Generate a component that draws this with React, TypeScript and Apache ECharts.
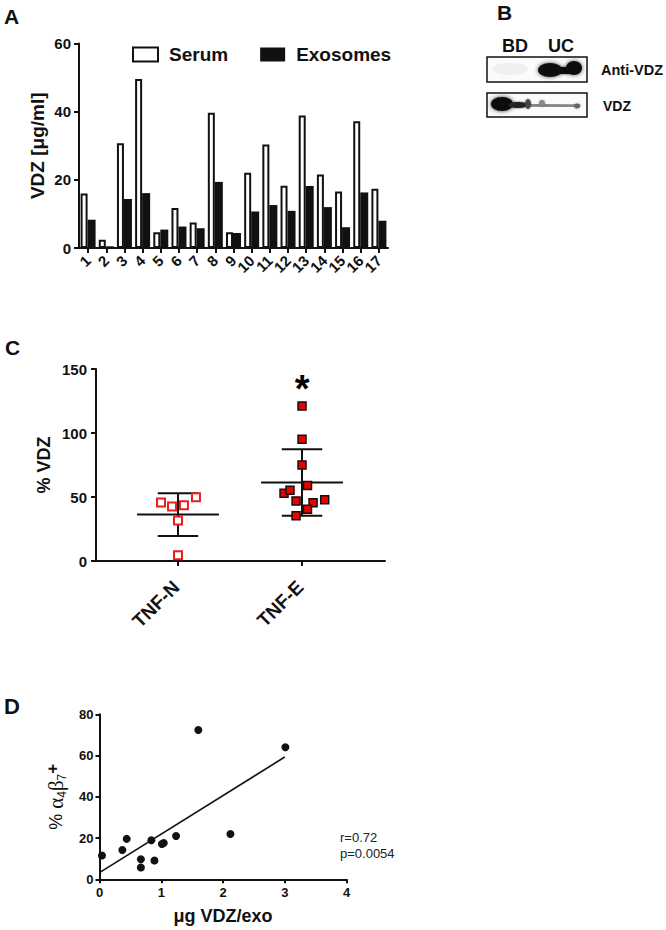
import React, { useEffect, useRef } from "react";
import * as echarts from "echarts";

// ---------- Panel A data ----------
const sampleIds = ["1", "2", "3", "4", "5", "6", "7", "8", "9", "10", "11", "12", "13", "14", "15", "16", "17"];
const serumVdz = [16, 2.4, 30.7, 49.6, 4.6, 11.7, 7.5, 39.7, 4.6, 22.1, 30.4, 18.3, 38.9, 21.6, 16.6, 37.2, 17.4];
const exosomeVdz = [8.3, 0.5, 14.4, 16.1, 5.4, 6.3, 5.8, 19.4, 4.4, 10.7, 12.6, 10.9, 18.2, 12.0, 6.1, 16.3, 8.0];

// ---------- Panel B labels ----------
const laneLabels = ["BD", "UC"];
const blotLabels = ["Anti-VDZ", "VDZ"];

// ---------- Panel C data ----------
const groupNames = ["TNF-N", "TNF-E"];
const tnfN = [45.7, 42.5, 43.6, 49.8, 31.6, 4.4];
const tnfNJitter = [-0.137, -0.048, 0.048, 0.145, 0, 0];
const tnfE = [121.1, 95.1, 75, 58.9, 52.9, 55.2, 46.9, 47.9, 45.6, 40.4, 35.4];
const tnfEJitter = [0, 0, 0, 0.044, -0.145, -0.097, -0.048, 0.183, 0.089, 0.044, -0.048];

// ---------- Panel D data ----------
const vdzPerExo = [0.04, 0.37, 0.44, 0.67, 0.67, 0.84, 0.89, 1.01, 1.04, 1.24, 1.6, 2.12, 3.01];
const a4b7Pct = [11.5, 14.2, 19.6, 9.7, 5.7, 18.9, 9.1, 17.1, 17.6, 21.0, 72.4, 22.0, 64.0];
const fitRange = [0, 3];
const statsText = ["r=0.72", "p=0.0054"];

const FONT = "Arial, 'Liberation Sans', sans-serif";

const mean = (a: number[]) => a.reduce((s, v) => s + v, 0) / a.length;
const sd = (a: number[]) => {
  const m = mean(a);
  return Math.sqrt(a.reduce((s, v) => s + (v - m) * (v - m), 0) / (a.length - 1));
};
function linFit(x: number[], y: number[]) {
  const mx = mean(x), my = mean(y);
  let sxy = 0, sxx = 0;
  for (let i = 0; i < x.length; i++) {
    sxy += (x[i] - mx) * (y[i] - my);
    sxx += (x[i] - mx) * (x[i] - mx);
  }
  const b = sxy / sxx;
  return { a: my - b * mx, b };
}

export default function App() {
  const ref = useRef<HTMLDivElement>(null);
  useEffect(() => {
    const chart = echarts.init(ref.current!, null, { renderer: "svg" });
    const fit = linFit(vdzPerExo, a4b7Pct);
    const meanHalf = 0.33;
    const capHalf = 0.163;
    const axisLine = { show: true, lineStyle: { color: "#111", width: 2 } };
    const axisTick = { show: true, length: 5, lineStyle: { color: "#111", width: 2 } };
    const boldLabel = (size: number) => ({ color: "#111", fontWeight: "bold" as const, fontSize: size, fontFamily: FONT });

    const maxE = Math.max(...tnfE);
    const maxEIdx = tnfE.indexOf(maxE);

    const option: any = {
      animation: false,
      backgroundColor: "#fff",
      textStyle: { fontFamily: FONT },
      legend: {
        data: ["Serum", "Exosomes"],
        left: 127,
        top: 40,
        icon: "rect",
        itemWidth: 25,
        itemHeight: 14,
        itemGap: 32,
        textStyle: { fontSize: 19, fontWeight: "bold", color: "#111", fontFamily: FONT, padding: [0, 0, 0, 6] },
      },
      grid: [
        { left: 79, top: 43.5, width: 309, height: 204.5 },
        { left: 96, top: 369, width: 289, height: 192 },
        { left: 99.5, top: 714.3, width: 247, height: 165 },
      ],
      xAxis: [
        {
          type: "category",
          gridIndex: 0,
          data: sampleIds,
          axisLine,
          axisTick: { ...axisTick, alignWithLabel: true },
          axisLabel: { ...boldLabel(15), rotate: 45, margin: 10, interval: 0 },
        },
        {
          type: "value",
          gridIndex: 1,
          min: 0.339,
          max: 2.669,
          axisLine,
          axisTick: { ...axisTick, customValues: [1, 2] },
          axisLabel: { show: false },
          splitLine: { show: false },
        },
        {
          type: "value",
          gridIndex: 2,
          min: 0,
          max: 4,
          interval: 1,
          axisLine,
          axisTick: { ...axisTick, length: 4 },
          axisLabel: { ...boldLabel(13), margin: 7 },
          splitLine: { show: false },
          name: "μg VDZ/exo",
          nameLocation: "middle",
          nameGap: 28,
          nameTextStyle: { ...boldLabel(18) },
        },
      ],
      yAxis: [
        {
          type: "value",
          gridIndex: 0,
          min: 0,
          max: 60,
          interval: 20,
          axisLine,
          axisTick,
          axisLabel: { ...boldLabel(15), margin: 8 },
          splitLine: { show: false },
          name: "VDZ [μg/ml]",
          nameLocation: "middle",
          nameGap: 32,
          nameTextStyle: { ...boldLabel(19) },
        },
        {
          type: "value",
          gridIndex: 1,
          min: 0,
          max: 150,
          interval: 50,
          axisLine,
          axisTick,
          axisLabel: { ...boldLabel(15), margin: 9 },
          splitLine: { show: false },
          name: "% VDZ",
          nameLocation: "middle",
          nameGap: 43,
          nameTextStyle: { ...boldLabel(18) },
        },
        {
          type: "value",
          gridIndex: 2,
          min: 0,
          max: 80,
          interval: 20,
          axisLine,
          axisTick: { ...axisTick, length: 4 },
          axisLabel: { ...boldLabel(13), margin: 6 },
          splitLine: { show: false },
          name: "{pc|% }{g|α}{sb|4}{g|β}{sb|7}{sp|+}",
          nameLocation: "middle",
          nameGap: 32,
          nameTextStyle: {
            color: "#111",
            rich: {
              pc: { fontSize: 18, fontFamily: FONT, color: "#111", lineHeight: 24 },
              g: { fontSize: 21, fontFamily: "'Liberation Serif', 'DejaVu Serif', serif", color: "#111", lineHeight: 24 },
              sb: { fontSize: 12, fontFamily: FONT, color: "#111", lineHeight: 13, verticalAlign: "bottom" },
              sp: { fontSize: 17, fontFamily: FONT, fontWeight: "bold", color: "#111", lineHeight: 14, verticalAlign: "top" },
            },
          },
        },
      ],
      series: [
        {
          name: "Serum",
          type: "bar",
          xAxisIndex: 0,
          yAxisIndex: 0,
          data: serumVdz,
          barWidth: 7,
          barGap: "0%",
          itemStyle: { color: "#fff", borderColor: "#111", borderWidth: 2 },
        },
        {
          name: "Exosomes",
          type: "bar",
          xAxisIndex: 0,
          yAxisIndex: 0,
          data: exosomeVdz,
          barWidth: 8,
          barGap: "0%",
          itemStyle: { color: "#111", borderColor: "#111", borderWidth: 0 },
        },
        {
          type: "custom",
          xAxisIndex: 1,
          yAxisIndex: 1,
          z: 1,
          clip: false,
          data: [
            [1, mean(tnfN), sd(tnfN)],
            [2, mean(tnfE), sd(tnfE)],
          ],
          encode: { x: 0, y: 1 },
          renderItem: (params: any, api: any) => {
            const x = api.value(0), m = api.value(1), s = api.value(2);
            const p = (xx: number, yy: number) => api.coord([xx, yy]);
            const ln = (a: number[], b: number[]) => ({
              type: "line",
              shape: { x1: a[0], y1: a[1], x2: b[0], y2: b[1] },
              style: { stroke: "#111", lineWidth: 2 },
            });
            const base = p(x, 0);
            return {
              type: "group",
              children: [
                ln(p(x - meanHalf, m), p(x + meanHalf, m)),
                ln(p(x - capHalf, m + s), p(x + capHalf, m + s)),
                ln(p(x - capHalf, m - s), p(x + capHalf, m - s)),
                ln(p(x, m - s), p(x, m + s)),
                {
                  type: "text",
                  x: base[0] - 2,
                  y: base[1] + 23,
                  rotation: Math.PI / 4,
                  style: {
                    text: groupNames[params.dataIndex],
                    align: "right",
                    verticalAlign: "middle",
                    font: `bold 19px ${FONT}`,
                    fill: "#111",
                  },
                },
              ],
            };
          },
        },
        {
          type: "scatter",
          xAxisIndex: 1,
          yAxisIndex: 1,
          z: 3,
          symbol: "rect",
          symbolSize: 8,
          data: tnfN.map((v, i) => [1 + tnfNJitter[i], v]),
          itemStyle: { color: "#fff", borderColor: "#ee1c1c", borderWidth: 2, opacity: 1 },
        },
        {
          type: "scatter",
          xAxisIndex: 1,
          yAxisIndex: 1,
          z: 3,
          symbol: "rect",
          symbolSize: 8,
          data: tnfE.map((v, i) => [2 + tnfEJitter[i], v]),
          itemStyle: { color: "#ee0000", borderColor: "#111", borderWidth: 1.5, opacity: 1 },
        },
        {
          type: "scatter",
          xAxisIndex: 1,
          yAxisIndex: 1,
          z: 4,
          symbolSize: 1,
          data: [[2 + tnfEJitter[maxEIdx], maxE]],
          itemStyle: { color: "rgba(255,255,255,0)", opacity: 1 },
          label: {
            show: true,
            position: "top",
            distance: -3,
            formatter: "*",
            fontSize: 38,
            fontWeight: "bold",
            color: "#000",
            opacity: 1,
            fontFamily: FONT,
          },
        },
        {
          type: "scatter",
          xAxisIndex: 2,
          yAxisIndex: 2,
          symbol: "circle",
          symbolSize: 8,
          data: vdzPerExo.map((v, i) => [v, a4b7Pct[i]]),
          itemStyle: { color: "#111", opacity: 1 },
        },
        {
          type: "line",
          xAxisIndex: 2,
          yAxisIndex: 2,
          symbol: "none",
          data: fitRange.map((x) => [x, fit.a + fit.b * x]),
          lineStyle: { color: "#111", width: 1.6 },
        },
      ],
      graphic: [
        // panel letters
        { type: "text", left: 4, top: 6, style: { text: "A", font: `bold 21px ${FONT}`, fill: "#111" } },
        { type: "text", left: 497, top: 2, style: { text: "B", font: `bold 21px ${FONT}`, fill: "#111" } },
        { type: "text", left: 5, top: 337, style: { text: "C", font: `bold 21px ${FONT}`, fill: "#111" } },
        { type: "text", left: 4, top: 695, style: { text: "D", font: `bold 22px ${FONT}`, fill: "#111" } },
        // panel B: lane labels
        { type: "text", x: 515, y: 46, style: { text: laneLabels[0], font: `bold 18px ${FONT}`, fill: "#111", align: "center", verticalAlign: "middle" } },
        { type: "text", x: 561, y: 46, style: { text: laneLabels[1], font: `bold 18px ${FONT}`, fill: "#111", align: "center", verticalAlign: "middle" } },
        { type: "text", x: 601, y: 70, style: { text: blotLabels[0], font: `bold 14.5px ${FONT}`, fill: "#111", verticalAlign: "middle" } },
        { type: "text", x: 603, y: 106, style: { text: blotLabels[1], font: `bold 14px ${FONT}`, fill: "#111", verticalAlign: "middle" } },
        // blot 1
        { type: "rect", shape: { x: 487, y: 57, width: 100, height: 25 }, style: { fill: "#fbfbfb", stroke: "#111", lineWidth: 1.5 } },
        { type: "ellipse", shape: { cx: 510, cy: 69, rx: 18, ry: 6 }, style: { fill: "#f0f0f0" } },
        { type: "ellipse", shape: { cx: 550, cy: 70, rx: 12, ry: 7 }, style: { fill: "#111", shadowBlur: 4, shadowColor: "rgba(0,0,0,0.7)" } },
        { type: "rect", shape: { x: 552, y: 67, width: 18, height: 7 }, style: { fill: "#111", shadowBlur: 3, shadowColor: "rgba(0,0,0,0.6)" } },
        { type: "ellipse", shape: { cx: 574, cy: 68, rx: 8, ry: 7 }, style: { fill: "#111", shadowBlur: 4, shadowColor: "rgba(0,0,0,0.7)" } },
        // blot 2
        { type: "rect", shape: { x: 487, y: 93, width: 100, height: 24 }, style: { fill: "#fbfbfb", stroke: "#111", lineWidth: 1.5 } },
        { type: "line", shape: { x1: 510, y1: 105, x2: 580, y2: 106 }, style: { stroke: "#888", lineWidth: 3, shadowBlur: 3, shadowColor: "rgba(0,0,0,0.4)" } },
        { type: "ellipse", shape: { cx: 502, cy: 104, rx: 11, ry: 7 }, style: { fill: "#0a0a0a", shadowBlur: 4, shadowColor: "rgba(0,0,0,0.8)" } },
        { type: "ellipse", shape: { cx: 518, cy: 105, rx: 10, ry: 3 }, style: { fill: "#222", shadowBlur: 2, shadowColor: "rgba(0,0,0,0.6)" } },
        { type: "ellipse", shape: { cx: 528, cy: 104, rx: 3, ry: 5 }, style: { fill: "#444", shadowBlur: 2, shadowColor: "rgba(0,0,0,0.5)" } },
        { type: "ellipse", shape: { cx: 542, cy: 103, rx: 3, ry: 3 }, style: { fill: "#888", shadowBlur: 2, shadowColor: "rgba(0,0,0,0.4)" } },
        { type: "ellipse", shape: { cx: 577, cy: 106, rx: 3, ry: 2.5 }, style: { fill: "#666", shadowBlur: 2, shadowColor: "rgba(0,0,0,0.4)" } },
        // panel D stats
        { type: "text", x: 340, y: 837, style: { text: statsText[0], font: `13px ${FONT}`, fill: "#222", verticalAlign: "middle" } },
        { type: "text", x: 340, y: 853, style: { text: statsText[1], font: `13px ${FONT}`, fill: "#222", verticalAlign: "middle" } },
      ],
    };
    chart.setOption(option);
    return () => chart.dispose();
  }, []);
  return (
    <div
      ref={ref}
      style={{ position: "absolute", left: 0, top: 0, width: 666, height: 930, background: "#fff" }}
    />
  );
}
